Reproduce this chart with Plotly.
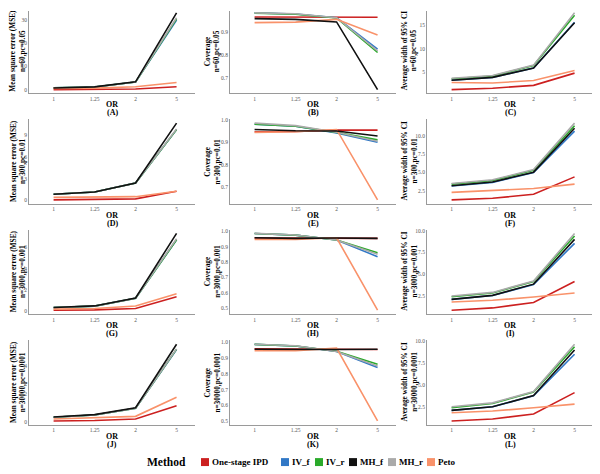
import plotly.graph_objects as go

# ---------------- data ----------------
OR_LEVELS = ["1", "1.25", "2", "5"]
METHODS = ["One-stage IPD", "IV_f", "IV_r", "MH_f", "MH_r", "Peto"]

# each panel: one list per method, in METHODS order
A_mse_n60 = [[0.05, 0.1, 0.3, 1.3], [0.8, 1.2, 3.3, 30.0], [0.8, 1.2, 3.3, 30.5],
             [0.75, 1.25, 3.4, 33.1], [0.8, 1.2, 3.3, 31.0], [0.6, 0.7, 1.3, 3.1]]
B_cov_n60 = [[0.964, 0.963, 0.962, 0.963], [0.982, 0.977, 0.961, 0.826], [0.981, 0.976, 0.960, 0.811],
             [0.957, 0.954, 0.943, 0.651], [0.982, 0.978, 0.961, 0.818], [0.940, 0.942, 0.954, 0.887]]
C_wid_n60 = [[1.3, 1.6, 2.2, 4.8], [3.3, 3.9, 5.9, 15.6], [3.6, 4.2, 6.4, 17.1],
             [3.3, 3.9, 5.9, 15.5], [3.7, 4.3, 6.5, 17.6], [2.8, 2.7, 3.25, 5.35]]
D_mse_n300 = [[0.05, 0.1, 0.2, 1.25], [0.83, 1.15, 2.4, 9.8], [0.83, 1.15, 2.4, 9.8],
              [0.83, 1.15, 2.4, 10.7], [0.83, 1.15, 2.4, 9.9], [0.4, 0.45, 0.5, 1.25]]
E_cov_n300 = [[0.947, 0.948, 0.954, 0.954], [0.980, 0.971, 0.942, 0.900], [0.980, 0.971, 0.944, 0.911],
              [0.957, 0.951, 0.950, 0.928], [0.985, 0.974, 0.945, 0.905], [0.944, 0.947, 0.957, 0.645]]
F_wid_n300 = [[1.23, 1.45, 2.0, 4.4], [3.15, 3.65, 5.0, 10.7], [3.4, 3.9, 5.3, 11.45],
              [3.18, 3.7, 5.05, 11.1], [3.5, 4.0, 5.4, 11.8], [2.27, 2.5, 2.8, 3.4]]
G_mse_n3000 = [[0.12, 0.15, 0.28, 1.38], [0.37, 0.5, 1.24, 6.7], [0.37, 0.5, 1.24, 6.7],
               [0.37, 0.52, 1.26, 7.3], [0.37, 0.5, 1.24, 6.8], [0.22, 0.28, 0.52, 1.66]]
H_cov_n3000 = [[0.955, 0.953, 0.953, 0.953], [0.984, 0.974, 0.942, 0.835], [0.984, 0.974, 0.943, 0.860],
               [0.957, 0.953, 0.955, 0.953], [0.985, 0.975, 0.942, 0.850], [0.946, 0.946, 0.957, 0.489]]
I_wid_n3000 = [[0.92, 1.18, 1.79, 4.19], [2.16, 2.6, 3.85, 8.55], [2.46, 2.88, 4.19, 9.38],
               [2.16, 2.61, 3.89, 9.0], [2.54, 2.95, 4.25, 9.68], [1.86, 2.05, 2.42, 2.88]]
J_mse_n30000 = [[0.07, 0.1, 0.21, 1.15], [0.33, 0.5, 0.98, 5.15], [0.33, 0.5, 0.98, 5.18],
                [0.35, 0.52, 1.01, 5.53], [0.33, 0.5, 0.98, 5.2], [0.21, 0.28, 0.4, 1.76]]
K_cov_n30000 = [[0.960, 0.958, 0.955, 0.955], [0.988, 0.978, 0.943, 0.840], [0.988, 0.978, 0.944, 0.862],
                [0.957, 0.955, 0.955, 0.957], [0.989, 0.979, 0.943, 0.850], [0.947, 0.947, 0.964, 0.500]]
L_wid_n30000 = [[0.88, 1.11, 1.67, 4.12], [2.09, 2.5, 3.75, 8.5], [2.39, 2.88, 4.19, 9.34],
                [2.09, 2.5, 3.78, 8.97], [2.5, 2.95, 4.25, 9.64], [1.82, 2.01, 2.39, 2.8]]

MEASURE_TITLES = ["Mean square error (MSE)", "Coverage", "Average width of 95% CI"]
SCENARIOS = ["n=60,pc=0.05", "n=300,pc=0.01", "n=3000,pc=0.001", "n=30000,pc=0.0001"]
PANEL_LETTERS = ["(A)", "(B)", "(C)", "(D)", "(E)", "(F)", "(G)", "(H)", "(I)", "(J)", "(K)", "(L)"]
PANEL_DATA = [A_mse_n60, B_cov_n60, C_wid_n60, D_mse_n300, E_cov_n300, F_wid_n300,
              G_mse_n3000, H_cov_n3000, I_wid_n3000, J_mse_n30000, K_cov_n30000, L_wid_n30000]

# ---------------- styling / layout ----------------
COLORS = ["#CC2020", "#3178C6", "#2AAA2A", "#111111", "#AAAAAA", "#F9926A"]
DRAW_ORDER = [0, 1, 2, 4, 5, 3]   # MH_f drawn last (on top)
DTICKS = [10, 0.1, 5, 3, 0.1, 2.5, 2, 0.1, 2.5, 2, 0.1, 2.5]
TICKFMT = ["d", ".1f", "d", "d", ".1f", ".1f", "d", ".1f", ".1f", "d", ".1f", ".1f"]

# the page body adds an 8px offset, so the figure is drawn 8px smaller
OFF = 8
W, H = 600 - OFF, 474 - OFF
COL_LEFT = [29, 230, 427]          # page pixel positions
PLOT_W = 166
ROW_TOP = [6, 117, 228, 339.5]
PLOT_H = 85
YT_X = [17.5, 212, 409]

# legend layout (page px)
LEG_Y = 462
LEG_TITLE_X = 145
LEG_KEY_X = [201, 281, 315, 349, 388, 427]
LEG_KEY = 8

SERIF = "Liberation Serif, Times New Roman, serif"
AXIS_COL = "#9a9a9a"
TICK_COL = "#555555"


def px_x(x):
    return (x - OFF) / W


def px_y(y):
    return 1 - (y - OFF) / H


fig = go.Figure()
layout = dict(
    width=W, height=H, margin=dict(l=0, r=0, t=0, b=0),
    paper_bgcolor="white", plot_bgcolor="white",
    font=dict(family=SERIF, color="black"),
    showlegend=False,
)
annotations = []
shapes = []

for k, data in enumerate(PANEL_DATA):
    r, c = divmod(k, 3)
    sfx = "" if k == 0 else str(k + 1)
    left = COL_LEFT[c]
    full_top = ROW_TOP[r]
    top = max(full_top, OFF)
    bottom = full_top + PLOT_H
    xd = [px_x(left), px_x(left + PLOT_W)]
    yd = [px_y(bottom), px_y(top)]

    allv = [v for s in data for v in s]
    lo, hi = min(allv), max(allv)
    pad = 0.05 * (hi - lo)
    span = hi - lo + 2 * pad
    r_lo = lo - pad
    r_hi = hi + pad - (top - full_top) / PLOT_H * span

    for m in DRAW_ORDER:
        fig.add_trace(go.Scatter(
            x=OR_LEVELS, y=data[m], mode="lines",
            line=dict(color=COLORS[m], width=1.6),
            name=METHODS[m], legendgroup=METHODS[m], showlegend=False,
            xaxis="x" + sfx, yaxis="y" + sfx, hoverinfo="skip",
        ))

    layout["xaxis" + sfx] = dict(
        domain=xd, anchor="y" + sfx, type="category",
        categoryorder="array", categoryarray=OR_LEVELS,
        range=[-0.6, 3.45], showgrid=False, zeroline=False,
        showline=True, linecolor=AXIS_COL, linewidth=1,
        ticks="", tickfont=dict(family=SERIF, size=5.5, color=TICK_COL),
        fixedrange=True,
    )
    layout["yaxis" + sfx] = dict(
        domain=yd, anchor="x" + sfx, range=[r_lo, r_hi],
        dtick=DTICKS[k], tick0=0, tickformat=TICKFMT[k],
        showgrid=False, zeroline=False,
        showline=True, linecolor=AXIS_COL, linewidth=1,
        ticks="", tickfont=dict(family=SERIF, size=5.5, color=TICK_COL),
        fixedrange=True,
    )

    xc = px_x(left + PLOT_W / 2)
    annotations.append(dict(x=xc, y=px_y(bottom + 11.5), xref="paper", yref="paper",
                            text="<b>OR</b>", showarrow=False, xanchor="center", yanchor="middle",
                            font=dict(family=SERIF, size=8, color="black")))
    annotations.append(dict(x=xc, y=px_y(bottom + 19.5), xref="paper", yref="paper",
                            text="<b>" + PANEL_LETTERS[k] + "</b>", showarrow=False,
                            xanchor="center", yanchor="middle",
                            font=dict(family=SERIF, size=8, color="black")))
    annotations.append(dict(x=px_x(YT_X[c]), y=px_y(full_top + PLOT_H / 2), xref="paper", yref="paper",
                            text="<b>" + MEASURE_TITLES[c] + "<br>" + SCENARIOS[r] + "</b>",
                            showarrow=False, textangle=-90,
                            xanchor="center", yanchor="middle",
                            font=dict(family=SERIF, size=7.3, color="black")))

# legend: title, colour keys and method names
annotations.append(dict(x=px_x(LEG_TITLE_X), y=px_y(LEG_Y), xref="paper", yref="paper",
                        text="<b>Method</b>", showarrow=False, xanchor="left", yanchor="middle",
                        font=dict(family=SERIF, size=11.5, color="black")))
for m, name in enumerate(METHODS):
    kx = LEG_KEY_X[m]
    shapes.append(dict(type="rect", xref="paper", yref="paper",
                       x0=px_x(kx), x1=px_x(kx + LEG_KEY),
                       y0=px_y(LEG_Y + LEG_KEY / 2), y1=px_y(LEG_Y - LEG_KEY / 2),
                       fillcolor=COLORS[m], line=dict(width=0)))
    annotations.append(dict(x=px_x(kx + LEG_KEY + 1), y=px_y(LEG_Y), xref="paper", yref="paper",
                            text="<b>" + name + "</b>", showarrow=False, xanchor="left", yanchor="middle",
                            font=dict(family=SERIF, size=9, color="black")))

layout["annotations"] = annotations
layout["shapes"] = shapes
fig.update_layout(**layout)
fig.write_html("out.html")
